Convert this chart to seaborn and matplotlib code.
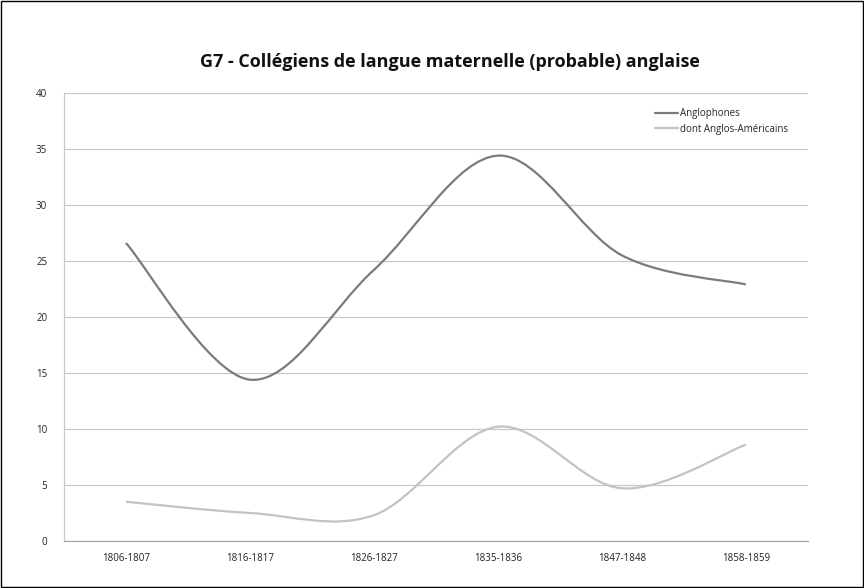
import numpy as np
import matplotlib
matplotlib.use("Agg")
import matplotlib.pyplot as plt
from matplotlib.path import Path
from matplotlib.patches import PathPatch, Rectangle
from matplotlib.lines import Line2D
import seaborn as sns

# data
periods = ["1806-1807", "1816-1817", "1826-1827", "1835-1836", "1847-1848", "1858-1859"]
anglophones = [26.6, 14.4, 24.2, 34.4, 25.5, 22.9]
anglo_americains = [3.5, 2.5, 2.3, 10.2, 4.7, 8.6]
series_names = ["Anglophones", "dont Anglos-Américains"]

sns.set_theme(style="white")
plt.rcParams['font.family'] = ['Open Sans', 'DejaVu Sans']

colors = ["#7b7b7b", "#c3c3c3"]


def smooth_path(xs, ys):
    # excel-style smoothed line: cubic bezier through each point
    pts = np.column_stack([xs, ys]).astype(float)
    ext = np.vstack([pts[0], pts, pts[-1]])
    verts = [tuple(pts[0])]
    codes = [Path.MOVETO]
    for i in range(len(pts) - 1):
        p0, p1, p2, p3 = ext[i], ext[i + 1], ext[i + 2], ext[i + 3]
        c1 = p1 + (p2 - p0) / 6.0
        c2 = p2 - (p3 - p1) / 6.0
        verts += [tuple(c1), tuple(c2), tuple(p2)]
        codes += [Path.CURVE4] * 3
    return Path(verts, codes)


fig = plt.figure(figsize=(8.64, 5.88), dpi=100)
ax = fig.add_axes([0.074, 0.080, 0.861, 0.762])

xpos = np.arange(len(periods))
for vals, col in zip([anglophones, anglo_americains], colors):
    patch = PathPatch(smooth_path(xpos, vals), facecolor="none", edgecolor=col,
                      lw=1.6, capstyle="butt")
    ax.add_patch(patch)

ax.set_xlim(-0.5, len(periods) - 0.5)
ax.set_ylim(0, 40)
ax.set_yticks(np.arange(0, 41, 5))
ax.set_xticks(xpos)
ax.set_xticklabels(periods)
ax.yaxis.grid(True, color="#c8c8c8", lw=0.9)
ax.set_axisbelow(True)
ax.tick_params(axis="both", length=0, labelsize=7, colors="#222222")
ax.tick_params(axis="x", pad=9)
ax.tick_params(axis="y", pad=12)
for s in ["top", "right"]:
    ax.spines[s].set_visible(False)
ax.spines["left"].set_color("#c8c8c8")
ax.spines["bottom"].set_color("#a8a8a8")
ax.spines["left"].set_linewidth(0.9)
ax.spines["bottom"].set_linewidth(0.9)

handles = [Line2D([], [], color=c, lw=1.6) for c in colors]
leg = ax.legend(handles, series_names, loc="upper right", bbox_to_anchor=(0.985, 0.985),
                frameon=False, fontsize=7, handlelength=2.4, handletextpad=0.2,
                labelspacing=0.45, facecolor="white")
leg.set_zorder(5)

fig.text(0.521, 0.895, "G7 - Collégiens de langue maternelle (probable) anglaise",
         ha="center", va="center", fontsize=13, fontweight="bold", color="#111111")

fig.patches.append(Rectangle((0.001, 0.001), 0.998, 0.998, transform=fig.transFigure,
                             fill=False, edgecolor="black", lw=1.0))

fig.savefig("out.png", dpi=100)
